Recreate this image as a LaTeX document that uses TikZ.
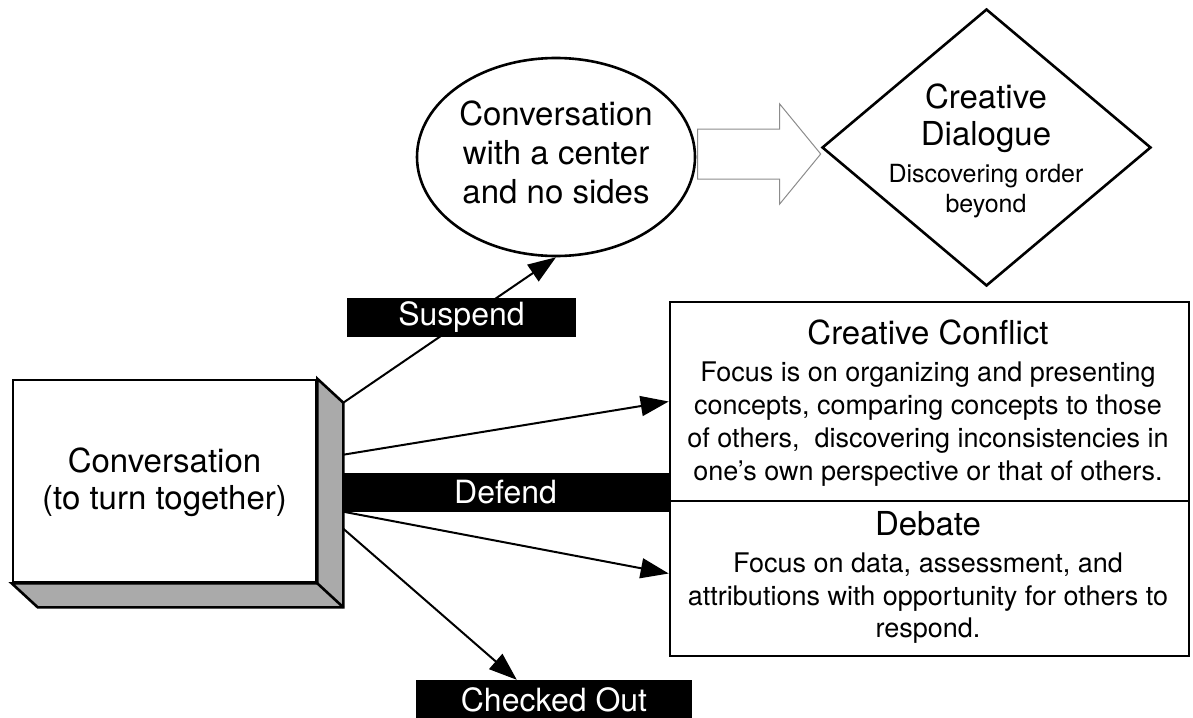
\documentclass[tikz,border=0pt]{standalone}
\usepackage{fontspec}
\setmainfont{TeX Gyre Heros}
\usetikzlibrary{shapes.geometric,arrows.meta,calc}
\definecolor{boxgray}{HTML}{AAAAAA}
\definecolor{hollowgray}{HTML}{8C8C8C}
\tikzset{
  shapeline/.style={draw=black, line width=2.6pt},
  conn/.style={line width=2pt, -{Triangle[length=28pt,width=20pt]}},
  big/.style={font=\fontsize{33}{39}\selectfont},
  mid/.style={font=\fontsize{27}{33}\selectfont},
  small/.style={font=\fontsize{25}{30}\selectfont},
  ln/.style={anchor=base, inner sep=0pt},
  tag/.style={fill=black, text=white, inner sep=0pt, minimum height=39pt, font=\fontsize{32}{38}\selectfont},
}
\begin{document}
\begin{tikzpicture}[x=1pt,y=-1pt]
\useasboundingbox (0,0) rectangle (1193,717);

% 3D box
\node[shapeline, fill=white, minimum width=303pt, minimum height=202pt, inner sep=0pt] (conv) at (164.5,481) {};
\draw[shapeline, fill=boxgray, line join=miter]
  (conv.north east) -- ($(conv.north east)+(26,24)$) -- ($(conv.south east)+(26,24)$)
  -- ($(conv.south west)+(26,24)$) -- (conv.south west) -- (conv.south east) -- cycle;
\draw[shapeline] (conv.south east) -- ($(conv.south east)+(26,24)$);
\node[ln,big] (conv1) at (164.5,472) {Conversation};
\node[ln,big] (conv2) at (164.5,509) {(to turn together)};

% ellipse
\node[ellipse, shapeline, minimum width=278pt, minimum height=198pt, inner sep=0pt] (ell) at (556,157) {};
\node[ln,big] (ell1) at (556,125) {Conversation};
\node[ln,big] (ell2) at (556,164) {with a center};
\node[ln,big] (ell3) at (556,203) {and no sides};

% diamond
\node[diamond, shapeline, minimum width=329pt, minimum height=277pt, inner sep=0pt] (dia) at (986.5,147.5) {};
\node[ln,big] (dia1) at (986,108) {Creative};
\node[ln,big] (dia2) at (986,145) {Dialogue};
\node[ln,small] (dia3) at (986,182) {Discovering order};
\node[ln,small] (dia4) at (986,212) {beyond};

% hollow arrow
\coordinate (T) at ($(dia.west)+(0,6.5)$);
\draw[draw=hollowgray, line width=1pt, fill=white]
  ($(T)+(-123,-25)$) -- ($(T)+(-41,-25)$) -- ($(T)+(-41,-50)$) -- (T)
  -- ($(T)+(-41,50)$) -- ($(T)+(-41,25)$) -- ($(T)+(-123,25)$) -- cycle;

% right boxes
\node[shapeline, minimum width=519pt, minimum height=199pt, inner sep=0pt] (cc) at (929.5,401.5) {};
\node[shapeline, minimum width=519pt, minimum height=155pt, inner sep=0pt] (db) at (929.5,578.5) {};
\node[ln,big] (cc0) at (928,344) {Creative Conflict};
\node[ln,mid] (cc1) at (928,381) {Focus is on organizing and presenting};
\node[ln,mid] (cc2) at (928,414) {concepts, comparing concepts to those};
\node[ln,mid] (cc3) at (928,447) {of others, \ discovering inconsistencies in};
\node[ln,mid] (cc4) at (928,480) {one’s own perspective or that of others.};
\node[ln,big] (db0) at (928,535) {Debate};
\node[ln,mid] (db1) at (928,572) {Focus on data, assessment, and};
\node[ln,mid] (db2) at (928,605) {attributions with opportunity for others to};
\node[ln,mid] (db3) at (928,637) {respond.};

% connectors
\coordinate (s1) at ($(conv.north east)+(26,24)$);
\coordinate (s2) at ($(s1)+(0,52)$);
\coordinate (s3) at ($(s1)+(0,109)$);
\coordinate (s4) at ($(s1)+(0,126)$);
\node[tag, minimum width=276pt] (co) at (554,699.5) {Checked Out};
\draw[conn] (s1) -- (ell.south);
\draw[conn] (s2) -- (cc.west);
\draw[conn] (s3) -- ($(db.west)+(0,-5)$);
\draw[conn] (s4) -- ($(co.north west)+(101,0)$);

% labels
\node[tag, minimum width=229pt] (sus) at (461.5,317.5) {Suspend};
\node[tag, minimum width=327pt] (def) at (505.5,492.5) {Defend};
\end{tikzpicture}
\end{document}
